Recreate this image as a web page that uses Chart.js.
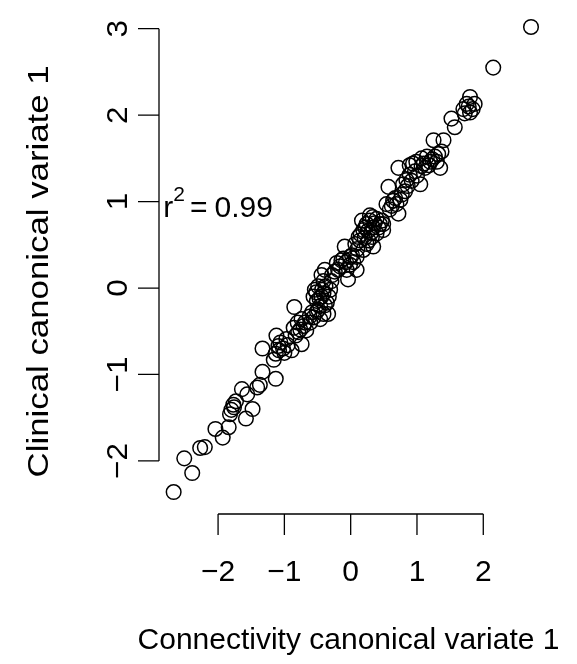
<!DOCTYPE html>
<html>
<head>
<meta charset="utf-8">
<script src="https://cdn.jsdelivr.net/npm/chart.js@4"></script>
<style>
  html, body { margin: 0; padding: 0; background: #fff; }
</style>
</head>
<body>
<canvas id="myChart" width="577" height="664"></canvas>
<script>
// canonical variate scores, one entry per subject
const connectivity = [
    -2.67, -2.39, -2.51, -2.27, -2.20, -2.04, -1.93, -1.84, -1.82, -1.80,
    -1.77, -1.73, -1.64, -1.56, -1.48, -1.58, -1.41, -1.37, -1.33, -1.13,
    -1.33, -1.16, -1.13, -1.12, -1.06, -1.02, -0.97, -0.89, -1.09, -0.74,
    -0.86, -0.80, -0.74, -0.67, -0.79, -0.71, -0.61, -0.85, -0.56, -0.51,
    -0.46, -0.41, -0.34, -0.56, -0.51, -0.44, -0.41, -0.54, -0.41, -0.31,
    -0.49, -0.39, -0.44, -0.29, -0.36, -0.46, -0.21, -0.14, -0.06, -0.01,
    -0.04, -0.19, -0.11, 0.04, 0.09, -0.09, -0.24, 0.09, -0.01, 0.07,
    0.12, 0.19, 0.24, 0.29, 0.34, 0.39, 0.49, 0.32, 0.24, 0.34,
    0.19, 0.44, 0.17, 0.29, 0.39, 0.14, 0.49, 0.57, 0.54, 0.64,
    0.72, 0.59, 0.69, 0.77, 0.72, 0.79, 0.84, 0.89, 0.82, 0.94,
    0.89, 1.05, 0.97, 0.99, 1.07, 1.15, 1.20, 1.12, 1.27, 1.35,
    1.37, 1.25, 1.40, 1.30, 1.07, 1.52, 1.57, 1.70, 1.75, 1.80,
    1.87, 1.72, 1.80, 2.15, 2.72, -0.52, -0.47, -0.43, -0.38, -0.49,
    -0.39, -0.33, -0.58, -0.62, -0.69, -0.28, -0.16, -0.07, 0.02, 0.10,
    0.15, 0.21, 0.26, 0.31, 0.36, 0.42, 0.22, 0.27, 0.33, 0.47,
    0.62, 0.67, 0.75, 0.86, 0.92, 1.00, 1.10, 1.18, 1.23, 1.32,
    -0.95, -1.00, -1.08, -0.83, -0.76, -1.76, 1.78, 1.84
]
const clinical = [
    -2.36, -2.14, -1.97, -1.85, -1.84, -1.63, -1.73, -1.61, -1.46, -1.41,
    -1.35, -1.31, -1.17, -1.23, -1.40, -1.51, -1.15, -1.12, -0.97, -1.05,
    -0.70, -0.83, -0.76, -0.55, -0.63, -0.70, -0.59, -0.72, -0.67, -0.65,
    -0.46, -0.40, -0.36, -0.49, -0.51, -0.44, -0.40, -0.22, -0.34, -0.27,
    -0.21, -0.30, -0.30, -0.10, -0.15, -0.10, -0.06, -0.02, 0.08, -0.02,
    0.02, 0.21, 0.15, 0.08, -0.17, -0.36, 0.29, 0.32, 0.21, 0.27,
    0.10, 0.21, 0.34, 0.30, 0.21, 0.48, 0.19, 0.36, 0.36, 0.51,
    0.59, 0.67, 0.74, 0.78, 0.70, 0.63, 0.67, 0.59, 0.51, 0.48,
    0.44, 0.74, 0.78, 0.84, 0.80, 0.55, 0.74, 1.17, 0.97, 1.01,
    0.86, 0.91, 0.97, 1.08, 1.39, 1.20, 1.25, 1.31, 1.12, 1.44,
    1.42, 1.20, 1.35, 1.46, 1.50, 1.52, 1.46, 1.39, 1.52, 1.39,
    1.58, 1.71, 1.71, 1.46, 1.41, 1.96, 1.86, 2.07, 2.13, 2.21,
    2.13, 2.02, 2.03, 2.55, 3.02, -0.05, -0.12, -0.02, 0.02, -0.25,
    -0.20, -0.10, -0.28, -0.33, -0.40, 0.15, 0.25, 0.30, 0.38, 0.45,
    0.62, 0.58, 0.66, 0.64, 0.75, 0.70, 0.70, 0.55, 0.82, 0.78,
    0.95, 1.04, 1.02, 1.18, 1.24, 1.30, 1.44, 1.42, 1.49, 1.55,
    -0.66, -0.75, -0.72, -0.55, -0.48, -1.38, 2.10, 2.07
]
const xTicks = [-2, -1, 0, 1, 2]
const yTicks = [-2, -1, 0, 1, 2, 3]
const xTitle = 'Connectivity canonical variate 1'
const yTitle = 'Clinical canonical variate 1'
const rSquared = '0.99'

const ctx = document.getElementById('myChart')
const font = 'Liberation Sans, Arial, sans-serif'
const fontSize = 30

const tickText = (v) => (v < 0 ? '\u2212' : '') + Math.abs(v)

// text helper: optional quarter turn, optional stretch along the reading direction
const drawText = (c, text, x, y, rotated, stretch = 1) => {
    c.save()
    c.translate(x, y)
    if (rotated) c.rotate(-Math.PI / 2)
    c.scale(stretch, 1)
    c.fillText(text, 0, 0)
    c.restore()
}

// base-graphics style axes: line from first to last tick, outward ticks
const rAxes = {
    id: 'rAxes',
    afterDraw(chart) {
        const c = chart.ctx
        const xs = chart.scales.x
        const ys = chart.scales.y
        const area = chart.chartArea
        const tickLen = 21

        c.save()
        c.strokeStyle = '#000'
        c.fillStyle = '#000'
        c.lineWidth = 1.3
        c.font = `${fontSize}px ${font}`
        c.textAlign = 'center'
        c.textBaseline = 'middle'

        // x axis
        const xb = area.bottom
        c.beginPath()
        c.moveTo(xs.getPixelForValue(xTicks[0]), xb)
        c.lineTo(xs.getPixelForValue(xTicks[xTicks.length - 1]), xb)
        xTicks.forEach((v) => {
            const px = xs.getPixelForValue(v)
            c.moveTo(px, xb)
            c.lineTo(px, xb + tickLen)
        })
        c.stroke()
        xTicks.forEach((v) => drawText(c, tickText(v), xs.getPixelForValue(v), xb + 59, false))
        drawText(c, xTitle, (area.left + area.right) / 2 - 4, xb + 127, false)

        // y axis
        const yl = area.left
        c.beginPath()
        c.moveTo(yl, ys.getPixelForValue(yTicks[0]))
        c.lineTo(yl, ys.getPixelForValue(yTicks[yTicks.length - 1]))
        yTicks.forEach((v) => {
            const py = ys.getPixelForValue(v)
            c.moveTo(yl, py)
            c.lineTo(yl - tickLen, py)
        })
        c.stroke()
        yTicks.forEach((v) => drawText(c, tickText(v), yl - 40, ys.getPixelForValue(v), true, 1.05))
        drawText(c, yTitle, yl - 119, (area.top + area.bottom) / 2 + 10, true, 1.16)

        // r^2 annotation centred on (-2, 1)
        const cx = xs.getPixelForValue(-2)
        const cy = ys.getPixelForValue(1)
        const supSize = 21
        c.textAlign = 'left'
        c.textBaseline = 'alphabetic'
        c.font = `${fontSize}px ${font}`
        const wr = c.measureText('r').width
        const wEq = c.measureText('=').width
        const wNum = c.measureText(rSquared).width
        c.font = `${supSize}px ${font}`
        const ws = c.measureText('2').width
        const gap1 = 5
        const gap2 = 7
        const total = wr + ws + gap1 + wEq + gap2 + wNum
        let x0 = cx - total / 2
        const base = cy + 15
        c.font = `${fontSize}px ${font}`
        c.fillText('r', x0, base)
        x0 += wr
        c.font = `${supSize}px ${font}`
        c.fillText('2', x0, base - 16)
        x0 += ws + gap1
        c.font = `${fontSize}px ${font}`
        c.fillText('=', x0, base)
        x0 += wEq + gap2
        c.fillText(rSquared, x0, base)
        c.restore()
    }
}

const points = connectivity.map((v, i) => ({ x: v, y: clinical[i] }))

new Chart(ctx, {
    type: 'scatter',
    data: {
        datasets: [
            {
                data: points,
                pointStyle: 'circle',
                pointRadius: 7.3,
                pointHoverRadius: 7.3,
                borderColor: '#000',
                backgroundColor: 'rgba(0,0,0,0)',
                borderWidth: 1.5,
                clip: false,
            },
        ],
    },
    options: {
        responsive: false,
        animation: false,
        devicePixelRatio: 1,
        layout: { padding: { left: 159, right: 31, top: 2, bottom: 150 } },
        plugins: { legend: { display: false }, tooltip: { enabled: false } },
        scales: {
            x: { type: 'linear', min: -2.891, max: 2.946, display: false },
            y: { type: 'linear', min: -2.614, max: 3.23, display: false },
        },
    },
    plugins: [rAxes],
})
</script>
</body>
</html>
